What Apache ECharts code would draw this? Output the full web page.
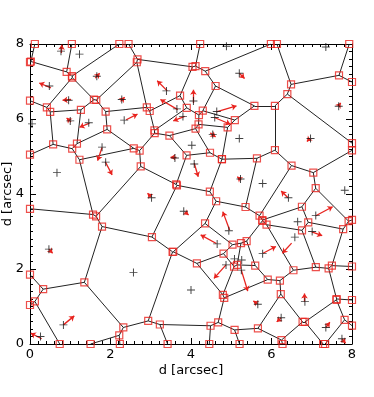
<!DOCTYPE html>
<html><head><meta charset="utf-8">
<script src="https://cdn.jsdelivr.net/npm/echarts@6/dist/echarts.min.js"></script>
<style>html,body{margin:0;padding:0;background:#fff}#c{width:374px;height:397px}</style>
</head><body><div id="c"></div>
<script>
// Generator positions shown as black plus signs, in arcsec
var plusX = [0.77,1.23,1.66,0.48,0.96,2.28,1.00,1.46,2.34,1.79,1.88,0.67,0.05,3.39,3.65,3.80,4.88,7.35,5.20,4.06,4.64,4.59,7.67,4.54,5.20,6.97,4.02,3.60,4.08,5.23,5.78,3.02,3.82,0.47,2.57,0.83,0.26,6.42,7.82,4.94,7.10,6.65,7.01,4.65,6.58,5.78,5.08,5.26,4.87,5.25,4.00,5.66,6.83,6.24,7.35,7.75];
var plusY = [7.81,7.73,7.14,6.88,6.50,6.52,5.95,5.90,5.97,5.25,4.85,4.57,5.87,6.75,6.27,6.07,7.94,7.92,7.22,6.48,6.20,6.04,6.34,5.59,5.48,5.48,5.30,4.96,4.80,4.40,4.28,3.90,3.54,2.53,1.91,0.51,0.20,3.90,4.10,3.02,3.43,3.26,3.00,2.67,2.85,2.41,2.27,2.24,2.11,1.97,1.44,1.06,1.13,0.70,0.44,0.14];
// Generators lying on or outside the frame (not drawn)
var hiddenX = [-0.55,-0.75,1.26,3.30,3.95,4.90,5.75,6.84,8.37,8.40,8.35,8.30,3.60];
var hiddenY = [8.09,1.50,-0.81,-0.68,-0.44,-0.50,-0.22,0.05,7.61,2.60,1.50,0.80,8.19];
// Arrows: start and end points
var arrX0 = [0.78,1.62,0.52,1.02,2.25,1.02,1.48,2.39,1.79,1.87,3.64,3.41,3.67,3.84,4.06,4.63,4.58,4.48,5.20,7.66,6.96,4.08,3.02,3.84,5.25,4.96,4.63,0.47,0.83,0.29,6.41,7.10,7.00,5.79,6.50,4.87,5.25,5.66,6.82,6.24,7.35,7.75];
var arrY0 = [7.76,7.09,6.83,6.52,6.47,5.92,5.89,5.98,5.24,4.86,4.98,6.75,6.25,6.07,6.43,6.19,6.04,5.63,7.22,6.34,5.49,4.82,3.91,3.53,4.37,3.04,2.68,2.53,0.51,0.14,3.90,3.42,2.99,2.42,2.69,2.11,1.97,1.06,1.13,0.70,0.44,0.14];
var arrX1 = [0.79,1.73,0.23,0.81,2.35,0.91,1.23,2.67,1.68,2.04,3.49,3.16,3.24,3.56,4.06,5.13,4.98,4.61,5.33,7.72,6.88,4.18,2.92,3.94,5.15,4.79,4.24,0.56,1.10,0.02,6.24,7.52,7.26,6.11,6.27,4.57,5.41,5.55,6.82,6.13,7.45,7.84];
var arrY1 = [7.98,7.22,6.96,6.50,6.58,6.03,5.78,6.13,4.89,4.51,4.98,7.02,6.52,5.95,6.78,6.35,5.86,5.52,7.08,6.43,5.40,4.46,4.02,3.44,4.46,3.53,2.91,2.42,0.75,0.29,4.08,3.66,2.89,2.60,2.42,1.75,1.41,1.15,1.35,0.59,0.58,0.02];
var xTicks = ['0','2','4','6','8'];
var yTicks = ['0','2','4','6','8'];

var LO = 0, HI = 8;
function clip(poly, a, b, c) {
  var out = [];
  for (var k = 0; k < poly.length; k++) {
    var P = poly[k], Q = poly[(k + 1) % poly.length];
    var fp = a * P[0] + b * P[1] - c, fq = a * Q[0] + b * Q[1] - c;
    if (fp <= 0) out.push(P);
    if ((fp < 0 && fq > 0) || (fp > 0 && fq < 0)) {
      var t = fp / (fp - fq);
      out.push([P[0] + t * (Q[0] - P[0]), P[1] + t * (Q[1] - P[1])]);
    }
  }
  return out;
}
var gx = plusX.concat(hiddenX), gy = plusY.concat(hiddenY);
var edges = {}, verts = {};
var E = 1e-7;
function sameSide(p, q) {
  return (Math.abs(p[0] - LO) < E && Math.abs(q[0] - LO) < E) || (Math.abs(p[0] - HI) < E && Math.abs(q[0] - HI) < E) ||
         (Math.abs(p[1] - LO) < E && Math.abs(q[1] - LO) < E) || (Math.abs(p[1] - HI) < E && Math.abs(q[1] - HI) < E);
}
function isCorner(p) { return (Math.abs(p[0]-LO)<E||Math.abs(p[0]-HI)<E)&&(Math.abs(p[1]-LO)<E||Math.abs(p[1]-HI)<E); }
function key(p) { return p[0].toFixed(4) + ',' + p[1].toFixed(4); }
for (var i = 0; i < gx.length; i++) {
  var poly = [[LO, LO], [HI, LO], [HI, HI], [LO, HI]];
  for (var j = 0; j < gx.length && poly.length; j++) {
    if (j === i) continue;
    var a = 2 * (gx[j] - gx[i]), b = 2 * (gy[j] - gy[i]);
    var c = gx[j] * gx[j] + gy[j] * gy[j] - gx[i] * gx[i] - gy[i] * gy[i];
    poly = clip(poly, a, b, c);
  }
  for (var k = 0; k < poly.length; k++) {
    var P = poly[k], Q = poly[(k + 1) % poly.length];
    if (!isCorner(P)) verts[key(P)] = P;
    if (sameSide(P, Q)) continue;
    var k1 = key(P), k2 = key(Q);
    if (k1 === k2) continue;
    edges[k1 < k2 ? k1 + '|' + k2 : k2 + '|' + k1] = [P, Q];
  }
}
var edgeData = Object.keys(edges).map(function (k) { return { coords: edges[k] }; });
var vertData = Object.keys(verts).map(function (k) { return verts[k]; });
var plusData = plusX.map(function (x, i) { return [x, plusY[i]]; });
var arrowData = arrX0.map(function (x, i) { return { coords: [[x, arrY0[i]], [arrX1[i], arrY1[i]]] }; });

var chart = echarts.init(document.getElementById('c'), null, { renderer: 'canvas' });
var FONT = 'DejaVu Sans';
function ax(extra) {
  var base = {
    type: 'value', min: 0, max: 8, interval: 2,
    axisLine: { show: true, onZero: false, lineStyle: { color: '#000', width: 1 } },
    axisTick: { show: true, inside: true, length: 6, lineStyle: { color: '#000' } },
    minorTick: { show: true, splitNumber: 10, length: 3, lineStyle: { color: '#000' } },
    splitLine: { show: false },
    axisLabel: { show: false }
  };
  return Object.assign(base, extra);
}
var plusPath = 'path://M-1,-0.12H1V0.12H-1Z M-0.12,-1H0.12V1H-0.12Z';
chart.setOption({
  animation: false,
  grid: { left: 30, right: 22, top: 44, bottom: 53, containLabel: false, outerBoundsMode: 'none' },
  xAxis: [
    ax({ position: 'bottom', name: 'd [arcsec]', nameLocation: 'middle', nameGap: 20, nameMoveOverlap: false,
         nameTextStyle: { color: '#000', fontSize: 13, fontFamily: FONT },
         axisLabel: { show: true, color: '#000', fontSize: 13, fontFamily: FONT, margin: 4,
           formatter: function (v) { return xTicks[Math.round(v / 2)]; } } }),
    ax({ position: 'top' })
  ],
  yAxis: [
    ax({ position: 'left', name: 'd [arcsec]', nameLocation: 'middle', nameGap: 16, nameMoveOverlap: false,
         nameTextStyle: { color: '#000', fontSize: 13, fontFamily: FONT },
         axisLabel: { show: true, color: '#000', fontSize: 13, fontFamily: FONT, margin: 6,
           formatter: function (v) { return yTicks[Math.round(v / 2)]; } } }),
    ax({ position: 'right' })
  ],
  series: [
    { type: 'lines', coordinateSystem: 'cartesian2d', xAxisIndex: 0, yAxisIndex: 0, z: 2,
      polyline: false, silent: true, data: edgeData,
      lineStyle: { color: '#222', width: 1, opacity: 1 } },
    { type: 'lines', coordinateSystem: 'cartesian2d', xAxisIndex: 0, yAxisIndex: 0, z: 3,
      silent: true, symbol: ['none', 'arrow'], symbolSize: 5, data: arrowData,
      lineStyle: { color: '#e8231e', width: 1.3, opacity: 1 } },
    { type: 'scatter', xAxisIndex: 0, yAxisIndex: 0, z: 4, silent: true,
      symbol: plusPath, symbolSize: 8, data: plusData,
      itemStyle: { color: '#111' } },
    { type: 'scatter', xAxisIndex: 0, yAxisIndex: 0, z: 5, silent: true,
      symbol: 'rect', symbolSize: 7, data: vertData,
      itemStyle: { color: 'rgba(0,0,0,0)', borderColor: '#e8231e', borderWidth: 1.2 } }
  ]
});
</script></body></html>
